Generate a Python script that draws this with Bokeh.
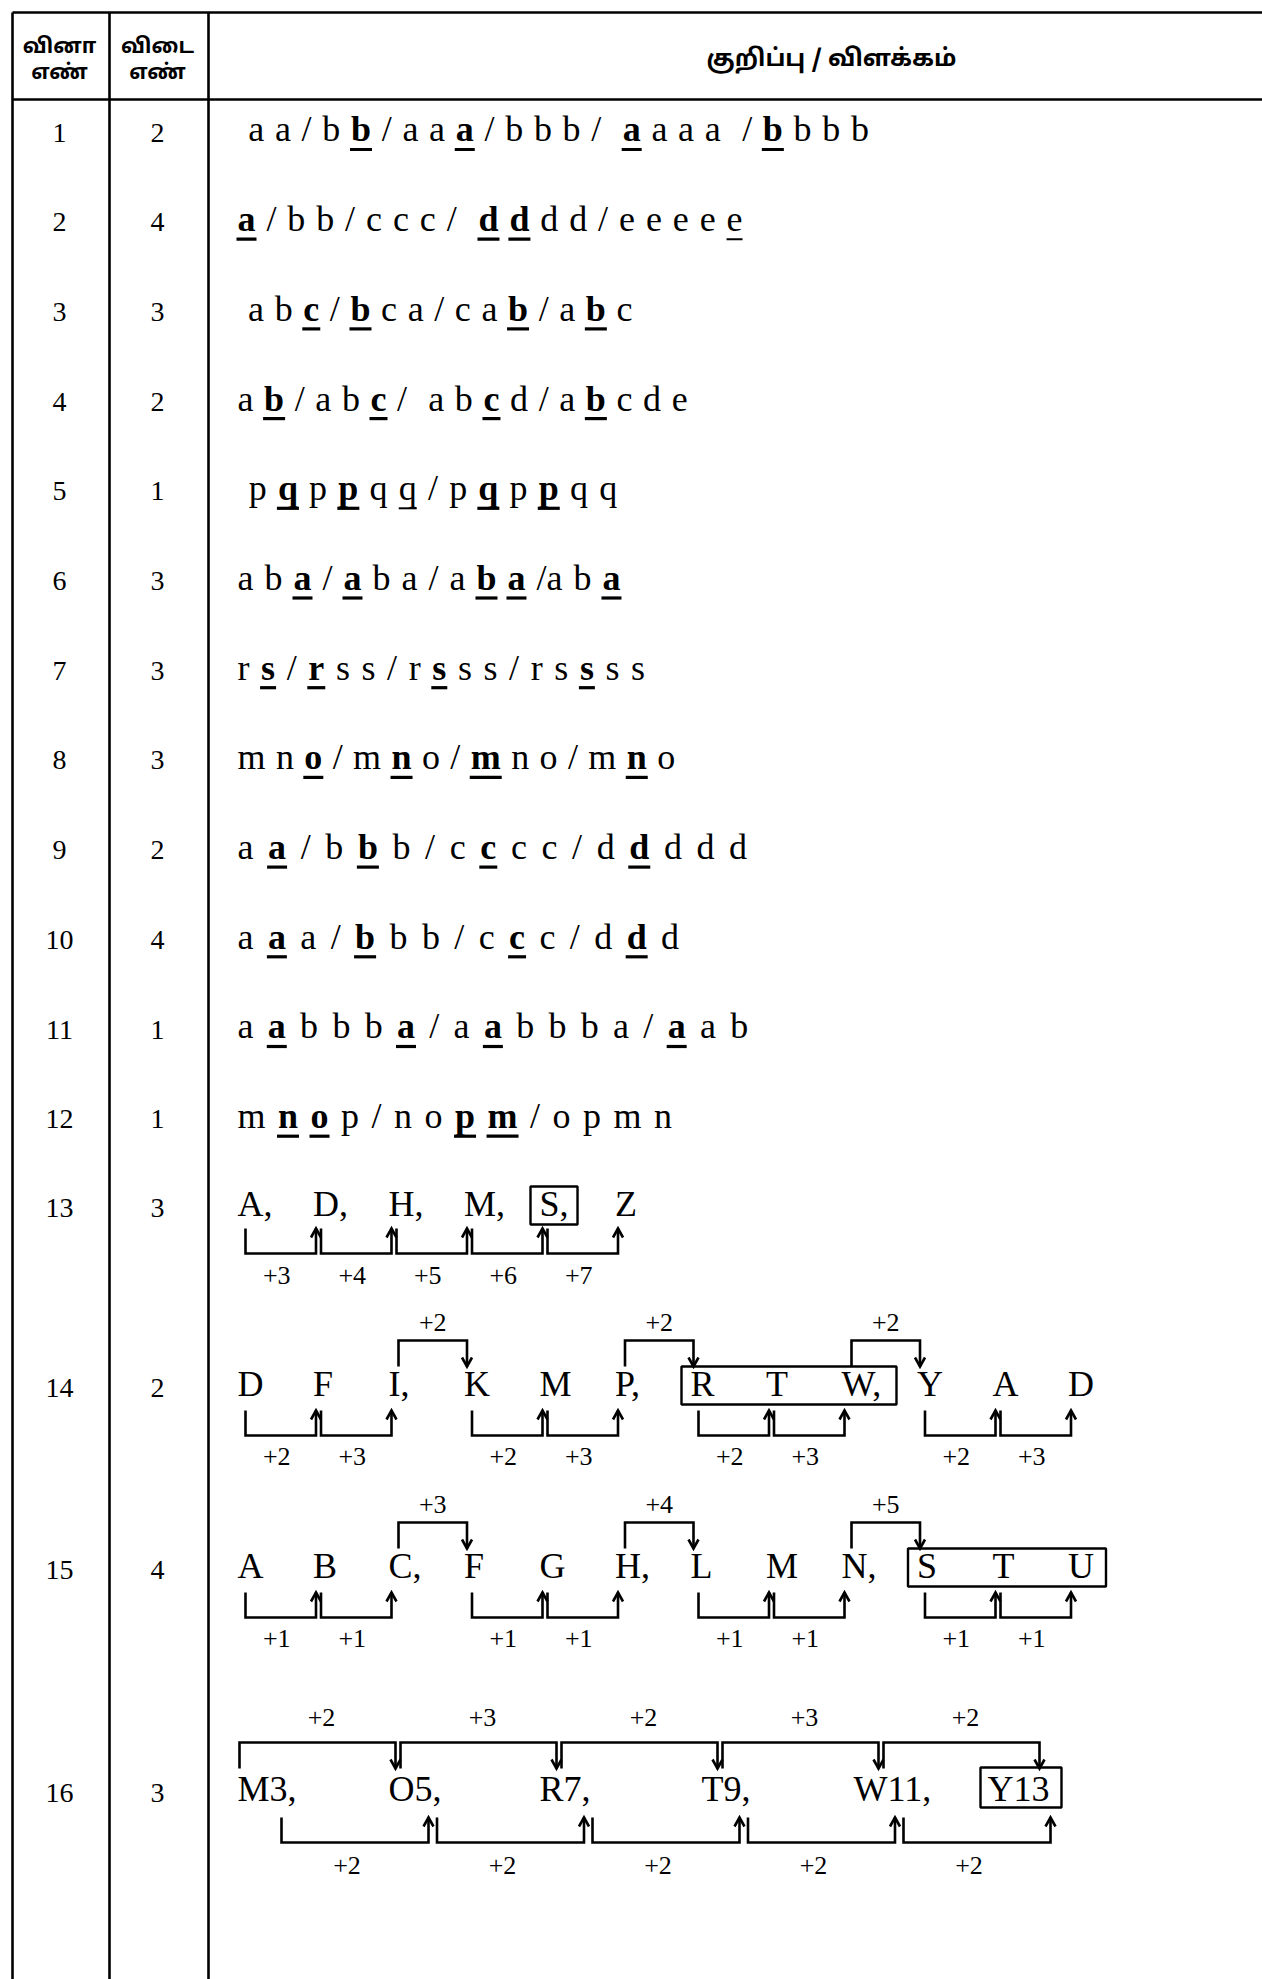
from bokeh.plotting import figure
from bokeh.models import Range1d
from bokeh.core.properties import value
from bokeh.embed import file_html
from bokeh.resources import INLINE

# ------------------------------------------------------------------ data
header_q = ["வினா", "எண்"]
header_a = ["விடை", "எண்"]
header_note = "குறிப்பு / விளக்கம்"

question_no = [str(i) for i in range(1, 17)]
answer_no = ["2", "4", "3", "2", "1", "3", "3", "3", "2", "4", "1", "1", "3", "2", "4", "3"]

# rows 1-12 : *x* = bold + underlined letter, _x_ = underlined letter
explanations = [
    " a a / b *b* / a a *a* / b b b /  *a* a a a  / *b* b b b",
    "*a* / b b / c c c /  *d* *d* d d / e e e e _e_",
    " a b *c* / *b* c a / c a *b* / a *b* c",
    "a *b* / a b *c* /  a b *c* d / a *b* c d e",
    " p *q* p *p* q _q_ / p *q* p *p* q q",
    "a b *a* / *a* b a / a *b* *a* /a b *a*",
    "r *s* / *r* s s / r *s* s s / r s *s* s s",
    "m n *o* / m *n* o / *m* n o / m *n* o",
    "a *a* / b *b* b / c *c* c c / d *d* d d d",
    "a *a* a / *b* b b / c *c* c / d *d* d",
    "a *a* b b b *a* / a *a* b b b a / *a* a b",
    "m *n* *o* p / n o *p* *m* / o p m n",
]

# row 13
seq13 = ["A,", "D,", "H,", "M,", "S,", "Z"]
steps13 = ["+3", "+4", "+5", "+6", "+7"]
answer13 = 4

# row 14 (groups of three)
seq14 = ["D", "F", "I,", "K", "M", "P,", "R", "T", "W,", "Y", "A", "D"]
inner14 = ["+2", "+3"]
between14 = ["+2", "+2", "+2"]
answer14 = (6, 8)

# row 15 (groups of three)
seq15 = ["A", "B", "C,", "F", "G", "H,", "L", "M", "N,", "S", "T", "U"]
inner15 = ["+1", "+1"]
between15 = ["+3", "+4", "+5"]
answer15 = (9, 11)

# row 16
seq16 = ["M3,", "O5,", "R7,", "T9,", "W11,", "Y13"]
letter_steps16 = ["+2", "+3", "+2", "+3", "+2"]
number_steps16 = ["+2", "+2", "+2", "+2", "+2"]
answer16 = 5

# ------------------------------------------------------------------ style / layout
SERIF = "Liberation Serif"
TAMIL = "Noto Sans Tamil"
INK = "#000000"
REG_W = {'a': .444, 'b': .5, 'c': .444, 'd': .5, 'e': .444, 'm': .778, 'n': .5, 'o': .5,
         'p': .5, 'q': .5, 'r': .333, 's': .389, '/': .278, ',': .25, '+': .564,
         'A': .722, 'B': .667, 'C': .667, 'D': .722, 'F': .556, 'G': .722, 'H': .722,
         'I': .333, 'K': .722, 'L': .611, 'M': .889, 'N': .722, 'O': .722, 'P': .556,
         'R': .667, 'S': .556, 'T': .611, 'U': .722, 'W': .944, 'Y': .722, 'Z': .611}
for dgt in "0123456789":
    REG_W[dgt] = .5
BOLD_W = {'a': .5, 'b': .556, 'c': .444, 'd': .556, 'e': .444, 'm': .833, 'n': .556,
          'o': .5, 'p': .556, 'q': .556, 'r': .444, 's': .389}

W, H = 1262, 1979
p = figure(width=W, height=H, x_range=Range1d(0, W), y_range=Range1d(H, 0),
           output_backend="svg", toolbar_location=None, min_border=0,
           x_axis_type=None, y_axis_type=None)
p.grid.visible = False
p.outline_line_color = None
p.background_fill_color = "white"
p.border_fill_color = "white"

LEFT, COL1, COL2, RIGHT = 12, 109, 208, 1262
TOP, HEAD_BOTTOM, BOTTOM = 12, 99, 1979
COL1_C, COL2_C = 59, 157
BASELINE_FIX = 0.39   # renderer draws the alphabetic baseline this many em too low


def add_text(xs, ys, texts, size, font=SERIF, style="normal", align="left"):
    ys = [y - BASELINE_FIX * size for y in ys]
    p.text(x=xs, y=ys, text=texts, text_font=value(font), text_font_size=value(f"{size}px"),
           text_font_style=value(style), text_align=align, text_baseline="alphabetic",
           text_color=INK)


# table rules
p.segment(x0=[LEFT, LEFT], y0=[TOP, HEAD_BOTTOM], x1=[RIGHT, RIGHT], y1=[TOP, HEAD_BOTTOM],
          line_color=INK, line_width=2.6)
p.segment(x0=[LEFT, COL1, COL2], y0=[TOP] * 3, x1=[LEFT, COL1, COL2], y1=[BOTTOM] * 3,
          line_color=INK, line_width=2.6)

# header
add_text([COL1_C, COL1_C], [56, 82], header_q, 21, TAMIL, "bold", "center")
add_text([COL2_C, COL2_C], [56, 82], header_a, 21, TAMIL, "bold", "center")
add_text([831], [69], [header_note], 24, TAMIL, "bold", "center")

# baselines
ROW_PITCH = 89.7
FIRST_BASE = 143
EXTRA_BASES = [1218, 1398, 1580, 1803]
baselines = [FIRST_BASE + ROW_PITCH * i for i in range(12)] + EXTRA_BASES

# number columns
add_text([COL1_C] * 16, baselines, question_no, 28, align="center")
add_text([COL2_C] * 16, baselines, answer_no, 28, align="center")

# rows 1-12, character by character
FS = 36
ROW_GAP = [10.7, 10.9, 10.6, 10.6, 11.2, 11.0, 11.6, 10.4, 14.6, 14.4, 14.3, 12.5]
TEXT_X = 237
reg = ([], [], [])
bold = ([], [], [])
ul_bold = ([], [], [])
ul_reg = ([], [], [])
for i, s in enumerate(explanations):
    x = TEXT_X
    y = baselines[i]
    mode = None
    for ch in s:
        if ch == '*':
            mode = None if mode == 'b' else 'b'
            continue
        if ch == '_':
            mode = None if mode == 'u' else 'u'
            continue
        if ch == ' ':
            x += ROW_GAP[i]
            continue
        if mode == 'b':
            w = BOLD_W[ch] * FS
            bold[0].append(x); bold[1].append(y); bold[2].append(ch)
            ul_bold[0].append(x - 1); ul_bold[1].append(x + w + 1); ul_bold[2].append(y + 6)
        else:
            w = REG_W[ch] * FS
            reg[0].append(x); reg[1].append(y); reg[2].append(ch)
            if mode == 'u':
                ul_reg[0].append(x); ul_reg[1].append(x + w); ul_reg[2].append(y + 6)
        x += w
add_text(reg[0], reg[1], reg[2], FS)
add_text(bold[0], bold[1], bold[2], FS, style="bold")
p.segment(x0=ul_bold[0], x1=ul_bold[1], y0=ul_bold[2], y1=ul_bold[2], line_color=INK, line_width=3.2)
p.segment(x0=ul_reg[0], x1=ul_reg[1], y0=ul_reg[2], y1=ul_reg[2], line_color=INK, line_width=2)

# rows 13-16
BIG, SMALL = 36, 26
SLOT_X0, SLOT_DX = 237, 75.5


def slot_x(k):
    return SLOT_X0 + SLOT_DX * k


def tok_w(t, size=BIG):
    return sum(REG_W[c] for c in t) * size


br_xs, br_ys = [], []
lab = ([], [], [])
boxes = ([], [], [], [])


def bottom_bracket(xs, xe, yt, yb, label, ylab, dx=-4):
    br_xs.append([xs, xs, xe, xe]); br_ys.append([yt, yb, yb, yt])
    br_xs.append([xe - 5, xe, xe + 5]); br_ys.append([yt + 9, yt, yt + 9])
    lab[0].append((xs + xe) / 2 + dx); lab[1].append(ylab); lab[2].append(label)


def top_bracket(xs, xe, yt, yb, label, ylab, dx=0):
    br_xs.append([xs, xs, xe, xe]); br_ys.append([yb, yt, yt, yb])
    br_xs.append([xe - 5, xe, xe + 5]); br_ys.append([yb - 9, yb, yb - 9])
    lab[0].append((xs + xe) / 2 + dx); lab[1].append(ylab); lab[2].append(label)


def box(l, r, t, b):
    boxes[0].append(l); boxes[1].append(r); boxes[2].append(t); boxes[3].append(b)


letters = ([], [], [])

# row 13
B = baselines[12]
for k, t in enumerate(seq13):
    letters[0].append(slot_x(k)); letters[1].append(B); letters[2].append(t)
for k, st in enumerate(steps13):
    bottom_bracket(slot_x(k) + 8, slot_x(k + 1) + 3, B + 10, B + 35, st, B + 67)
box(slot_x(answer13) - 9, slot_x(answer13) + tok_w(seq13[answer13]) + 9, B - 32, B + 6)

# rows 14 and 15
for B, seq, inner, between, ans in [(baselines[13], seq14, inner14, between14, answer14),
                                    (baselines[14], seq15, inner15, between15, answer15)]:
    for k, t in enumerate(seq):
        letters[0].append(slot_x(k)); letters[1].append(B); letters[2].append(t)
    for g in range(len(seq) // 3):
        for j, st in enumerate(inner):
            k = 3 * g + j
            bottom_bracket(slot_x(k) + 8, slot_x(k + 1) + 3, B + 12, B + 37, st, B + 68)
    for g, st in enumerate(between):
        k = 3 * g + 2
        top_bracket(slot_x(k) + 10, slot_x(k + 1) + 3, B - 58, B - 32, st, B - 66)
    box(slot_x(ans[0]) - 9, slot_x(ans[1]) + tok_w(seq[ans[1]]) + 12, B - 32, B + 6)

# row 16
B = baselines[15]
TOK16_DX = 151
TOK16_SHIFT = [0, 0, 0, 11, 12, -5]
tok16_x = [SLOT_X0 + TOK16_DX * k + TOK16_SHIFT[k] for k in range(len(seq16))]
for k, t in enumerate(seq16):
    letters[0].append(tok16_x[k]); letters[1].append(B); letters[2].append(t)
for k, st in enumerate(letter_steps16):
    xs = SLOT_X0 + 2 + 161 * k
    top_bracket(xs, xs + 156, B - 61, B - 35, st, B - 76, dx=4)
for k, st in enumerate(number_steps16):
    xs = SLOT_X0 + 44 + 155.5 * k
    bottom_bracket(xs, xs + 147, B + 14, B + 39, st, B + 72, dx=-8)
x5 = tok16_x[answer16]
box(x5 - 7, x5 + tok_w(seq16[answer16]) + 12, B - 36, B + 4)

add_text(letters[0], letters[1], letters[2], BIG)
add_text(lab[0], lab[1], lab[2], SMALL, align="center")
p.multi_line(xs=br_xs, ys=br_ys, line_color=INK, line_width=2.6, line_join="miter")
p.quad(left=boxes[0], right=boxes[1], top=boxes[2], bottom=boxes[3],
       fill_color=None, line_color=INK, line_width=2.4)

open("out.html", "w").write(file_html(p, INLINE))
